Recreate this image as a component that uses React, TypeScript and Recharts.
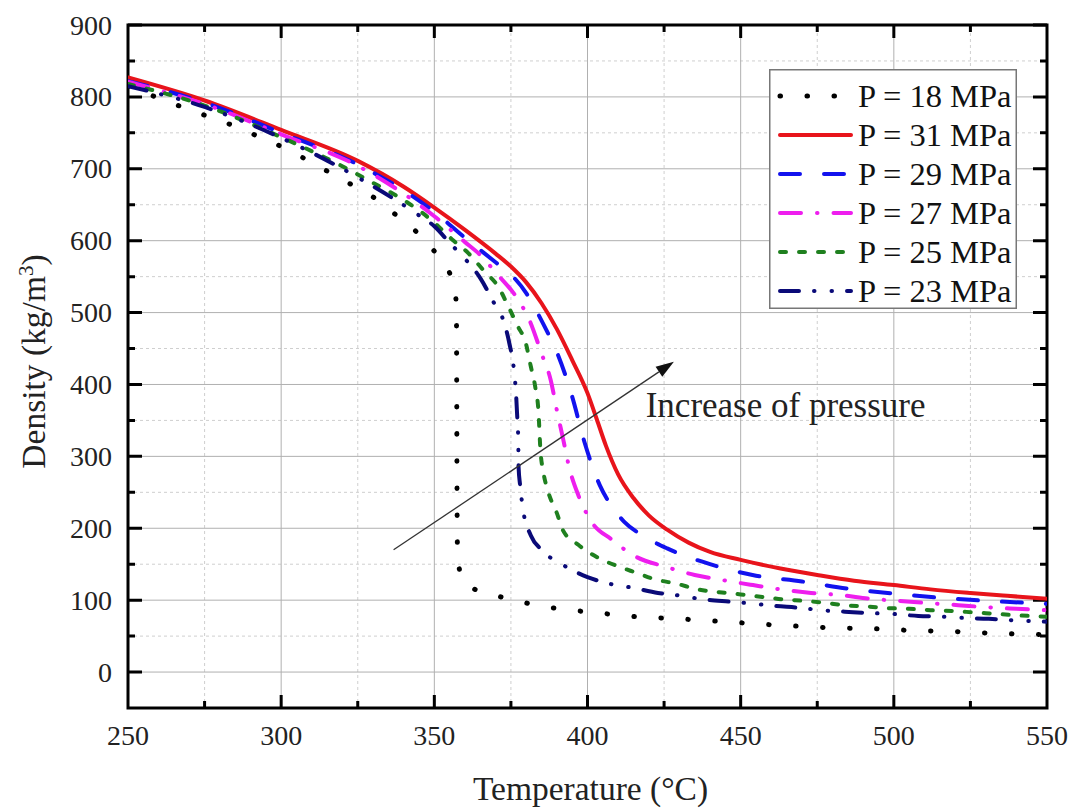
import React from 'react';
import { LineChart, Line, XAxis, YAxis, ReferenceLine, ReferenceArea, ReferenceDot, Legend, Label } from 'recharts';

const FONT = '"Liberation Serif", "Times New Roman", Times, serif';

// Axis ticks / grid values
const xTicks = [250, 275, 300, 325, 350, 375, 400, 425, 450, 475, 500, 525, 550];
const yTicks = [0, 50, 100, 150, 200, 250, 300, 350, 400, 450, 500, 550, 600, 650, 700, 750, 800, 850, 900];
const xMajorGrid = [300, 350, 400, 450, 500];
const xMinorGrid = [275, 325, 375, 425, 475, 525];
const yMajorGrid = [0, 100, 200, 300, 400, 500, 600, 700, 800];
const yMinorGrid = [50, 150, 250, 350, 450, 550, 650, 750, 850];

// Series data: [temperature °C, density kg/m3]
const p18: number[][] = [
  [250, 815], [259, 800], [267, 787], [276, 773], [285, 759], [293, 744], [301, 729], [309, 711], [317, 692],
  [325, 673], [333, 652], [339, 630], [346, 605], [352, 574], [355, 555], [356.5, 535], [357.2, 510],
  [357.3, 400], [357.4, 250], [357.6, 160], [359, 132], [362, 118], [368, 109], [377, 99], [386, 91],
  [395, 86], [404, 82], [413, 78], [430, 74], [445, 70], [459, 66], [468, 64], [477, 62], [486, 61],
  [495, 60], [505, 58], [513, 57], [522, 56], [532, 54], [540, 53], [550, 52],
];
const p31: number[][] = [
  [250, 827], [275, 795], [300, 754], [325, 711], [340, 675], [350, 646], [360, 615], [370, 582], [375, 564],
  [380, 542], [385, 513], [390, 477], [395, 434], [400, 388], [403, 352], [406, 315], [410, 275], [415, 242],
  [420, 218], [426, 198], [433, 180], [440, 167], [450, 156], [463, 144], [475, 135], [487, 127], [500, 121],
  [512, 115], [525, 110], [537, 106], [550, 102],
];
const p29: number[][] = [
  [250, 822], [275, 792], [300, 750], [325, 706], [350, 640], [360, 604], [370, 570], [375, 553], [380, 527],
  [383, 505], [387, 472], [390, 445], [395, 383], [399, 320], [404, 260], [408, 230], [412, 209], [418, 190],
  [426, 172], [440, 150], [455, 134], [470, 126], [485, 116], [500, 109], [516, 103], [531, 99], [550, 95],
];
const p27: number[][] = [
  [250, 821], [275, 790], [300, 748], [325, 704], [350, 634], [360, 598], [365, 580], [370, 556], [377, 520],
  [381, 490], [385, 443], [388, 406], [390, 364], [392, 325], [394, 285], [397, 246], [401, 211], [408, 184],
  [416, 160], [425, 147], [435, 135], [444, 128], [454, 121], [463, 115], [473, 110], [483, 107], [492, 102],
  [502, 99], [511, 96], [521, 93], [531, 90], [540, 88], [550, 86],
];
const p25: number[][] = [
  [250, 818], [275, 788], [300, 744], [325, 692], [350, 625], [356, 601], [361, 583], [366, 559], [371, 535],
  [374, 510], [377, 483], [380, 455], [381.5, 425], [383, 395], [384, 362], [384.6, 311], [385.6, 278],
  [387, 253], [390, 221], [392, 197], [397, 177], [403, 160], [410, 147], [416, 138], [422, 129], [429, 123],
  [436, 115], [443, 111], [450, 108], [458, 104], [464, 101], [471, 99], [478, 96], [484, 93], [492, 91],
  [498, 89], [505, 88], [512, 86], [519, 85], [526, 83], [533, 81], [540, 79], [550, 77],
];
const p23: number[][] = [
  [250, 815], [275, 786], [300, 743], [325, 688], [344, 638], [350, 620], [355, 597], [361, 570], [365, 548],
  [369, 517], [373, 483], [374.5, 457], [376, 420], [376.7, 385], [377, 360], [377.4, 322], [377.5, 285],
  [378, 260], [379, 225], [381.5, 190], [385, 170], [392, 149], [400, 132], [406, 124], [415, 117],
  [423, 110], [429, 107], [438, 101], [446, 98], [452, 96], [461, 92], [470, 89], [476, 86], [484, 84],
  [492, 82], [499, 81], [508, 78], [516, 77], [522, 75.5], [531, 74], [539, 72], [550, 70],
];

const seriesNames = ['P = 18 MPa', 'P = 31 MPa', 'P = 29 MPa', 'P = 27 MPa', 'P = 25 MPa', 'P = 23 MPa'];
const seriesData = [p18, p31, p29, p27, p25, p23];

// Annotation (data coordinates)
const arrowStart = { x: 336.7, y: 170 };
const arrowEnd = { x: 428.2, y: 431.5 };
const annotationText = 'Increase of pressure';
const annotationAt = { x: 419, y: 355 };

const styles = [
  { color: '#000000', dash: '0.5 26.5', width: 5 },
  { color: '#e8141b', dash: undefined, width: 4 },
  { color: '#1212ee', dash: '20 24', width: 4 },
  { color: '#ee1eee', dash: '21 16 0.5 16', width: 4 },
  { color: '#1f801f', dash: '6 13', width: 4 },
  { color: '#0a0a78', dash: '19 15 0.5 17 0.5 15', width: 4 },
];

const series = seriesNames.map((name, i) => ({
  name,
  data: seriesData[i].map(([t, d]) => ({ t, d })),
  ...styles[i],
}));

const W = 1073;
const H = 812;
const XAXIS_H = 60;
const YAXIS_W = 60;
const PLOT_LEFT = 128;
const PLOT_TOP = 25;
const PLOT_RIGHT = 1047;
const PLOT_BOTTOM = 708;
const M = { top: PLOT_TOP, right: W - PLOT_RIGHT, bottom: H - PLOT_BOTTOM - XAXIS_H, left: PLOT_LEFT - YAXIS_W };

const TICK_W = 3;

const isNum = (v: any) => typeof v === 'number' && !isNaN(v);

// Inward tick marks drawn at both ends of a full-span reference line
const makeVTickShape = (len: number) => (p: any) => {
  const { x1, y1, x2, y2 } = p;
  if (![x1, y1, x2, y2].every(isNum)) return null;
  const top = Math.min(y1, y2);
  const bot = Math.max(y1, y2);
  return <path d={`M${x1},${bot}V${bot - len}M${x1},${top}V${top + len}`} stroke="#000" strokeWidth={TICK_W} fill="none" />;
};
const makeHTickShape = (len: number) => (p: any) => {
  const { x1, y1, x2, y2 } = p;
  if (![x1, y1, x2, y2].every(isNum)) return null;
  const l = Math.min(x1, x2);
  const r = Math.max(x1, x2);
  return <path d={`M${l},${y1}H${l + len}M${r},${y1}H${r - len}`} stroke="#000" strokeWidth={TICK_W} fill="none" />;
};
const vMajor = makeVTickShape(13);
const vMinor = makeVTickShape(7);
const hMajor = makeHTickShape(14);
const hMinor = makeHTickShape(7);

const XTickLabel = (props: any) => {
  const { x, payload } = props;
  const v = payload.value;
  if (v % 50 !== 0) return null;
  return (
    <text x={x} y={PLOT_BOTTOM + 37} textAnchor="middle" fontSize={28} fontFamily={FONT} fill="#222">
      {v}
    </text>
  );
};

const YTickLabel = (props: any) => {
  const { y, payload } = props;
  const v = payload.value;
  if (v % 100 !== 0) return null;
  return (
    <text x={PLOT_LEFT - 16} y={y + 9.5} textAnchor="end" fontSize={28} fontFamily={FONT} fill="#222">
      {v}
    </text>
  );
};

const XLabel = () => (
  <text x={(PLOT_LEFT + PLOT_RIGHT) / 2 + 3} y={PLOT_BOTTOM + 92} textAnchor="middle" fontSize={33.5} fontFamily={FONT} fill="#222">
    Temperature (°C)
  </text>
);

const YLabel = () => {
  const cx = 45;
  const cy = (PLOT_TOP + PLOT_BOTTOM) / 2 - 5;
  return (
    <text x={cx} y={cy} transform={`rotate(-90, ${cx}, ${cy})`} textAnchor="middle" fontSize={33.5} fontFamily={FONT} fill="#222">
      Density (kg/m<tspan dy={-12} fontSize={21}>3</tspan>
      <tspan dy={12}>)</tspan>
    </text>
  );
};

const ArrowShape = (p: any) => {
  const { x1, y1, x2, y2 } = p;
  if (![x1, y1, x2, y2].every(isNum)) return null;
  const ang = Math.atan2(y2 - y1, x2 - x1);
  const L = 18;
  const HW = 6;
  const bx = x2 - L * Math.cos(ang);
  const by = y2 - L * Math.sin(ang);
  const px = -Math.sin(ang) * HW;
  const py = Math.cos(ang) * HW;
  return (
    <g>
      <line x1={x1} y1={y1} x2={bx} y2={by} stroke="#333" strokeWidth={1.3} />
      <polygon points={`${x2},${y2} ${bx + px},${by + py} ${bx - px},${by - py}`} fill="#111" />
    </g>
  );
};

const AnnotationShape = (p: any) => (
  <text x={p.cx} y={p.cy} fontSize={35} fontFamily={FONT} fill="#222">
    {annotationText}
  </text>
);

const LegendBox = () => (
  <svg width={248} height={240} style={{ display: 'block' }}>
    <rect x={0.75} y={0.75} width={246.5} height={238.5} fill="#fff" stroke="#777" strokeWidth={1.5} />
    {series.map((s, i) => {
      const cy = 27 + i * 39;
      return (
        <g key={s.name}>
          <line x1={11} x2={82} y1={cy} y2={cy} stroke={s.color} strokeWidth={s.width} strokeDasharray={s.dash} strokeLinecap="round" />
          <text x={89} y={cy + 11} fontSize={32.5} fontFamily={FONT} fill="#111">
            {s.name}
          </text>
        </g>
      );
    })}
  </svg>
);

const FrameShape = (p: any) => {
  const { x, y, width, height } = p;
  if (![x, y, width, height].every(isNum)) return null;
  return <rect x={x} y={y} width={width} height={height} fill="none" stroke="#000" strokeWidth={3} />;
};

export default function App() {
  return (
    <div style={{ position: 'absolute', left: 0, top: 0, background: '#fff' }}>
      <LineChart width={W} height={H} margin={M}>
        {xMinorGrid.map((v) => (
          <ReferenceLine key={'xm' + v} x={v} stroke="#cfcfcf" strokeWidth={1} strokeDasharray="3 3" />
        ))}
        {yMinorGrid.map((v) => (
          <ReferenceLine key={'ym' + v} y={v} stroke="#cfcfcf" strokeWidth={1} strokeDasharray="3 3" />
        ))}
        {xMajorGrid.map((v) => (
          <ReferenceLine key={'xM' + v} x={v} stroke="#b0b0b0" strokeWidth={1} />
        ))}
        {yMajorGrid.map((v) => (
          <ReferenceLine key={'yM' + v} y={v} stroke="#b0b0b0" strokeWidth={1} />
        ))}
        {xTicks
          .filter((v) => v !== 250 && v !== 550)
          .map((v) => (
            <ReferenceLine key={'xt' + v} x={v} shape={v % 50 === 0 ? vMajor : vMinor} />
          ))}
        {yTicks.map((v) => (
          <ReferenceLine key={'yt' + v} y={v} shape={v % 100 === 0 ? hMajor : hMinor} />
        ))}
        <XAxis
          dataKey="t"
          type="number"
          domain={[250, 550]}
          allowDataOverflow
          ticks={xTicks}
          interval={0}
          height={XAXIS_H}
          tickSize={0}
          tickMargin={0}
          tick={<XTickLabel />}
          tickLine={false}
          axisLine={false}
        >
          <Label content={<XLabel />} />
        </XAxis>
        <YAxis
          type="number"
          domain={[-50, 900]}
          allowDataOverflow
          ticks={yTicks}
          interval={0}
          width={YAXIS_W}
          tickSize={0}
          tickMargin={0}
          tick={<YTickLabel />}
          tickLine={false}
          axisLine={false}
        >
          <Label content={<YLabel />} />
        </YAxis>
        {series.map((s) => (
          <Line
            key={s.name}
            data={s.data}
            dataKey="d"
            name={s.name}
            type="monotone"
            stroke={s.color}
            strokeWidth={s.width}
            strokeDasharray={s.dash}
            strokeLinecap="round"
            strokeLinejoin="round"
            dot={false}
            activeDot={false}
            isAnimationActive={false}
          />
        ))}
        <ReferenceArea x1={250} x2={550} y1={-50} y2={900} shape={FrameShape} />
        <ReferenceLine segment={[arrowStart, arrowEnd]} shape={ArrowShape} />
        <ReferenceDot x={annotationAt.x} y={annotationAt.y} r={0} shape={AnnotationShape} />
        <Legend
          layout="horizontal"
          verticalAlign="middle"
          align="center"
          content={<LegendBox />}
          wrapperStyle={{ position: 'absolute', left: 769, top: 69, width: 248, height: 240 }}
        />
      </LineChart>
    </div>
  );
}
